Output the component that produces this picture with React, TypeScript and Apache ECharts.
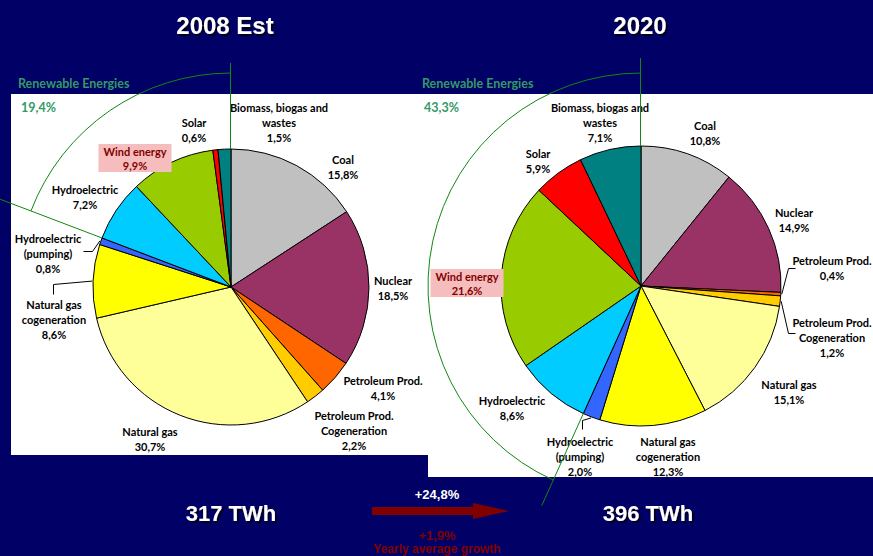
import React, { useEffect, useRef } from 'react';
import * as echarts from 'echarts';

// ---------- data ----------
const categories = [
  'Coal',
  'Nuclear',
  'Petroleum Prod.',
  'Petroleum Prod.\nCogeneration',
  'Natural gas',
  'Natural gas\ncogeneration',
  'Hydroelectric\n(pumping)',
  'Hydroelectric',
  'Wind energy',
  'Solar',
  'Biomass, biogas and\nwastes',
];
const values2008 = [15.8, 18.5, 4.1, 2.2, 30.7, 8.6, 0.8, 7.2, 9.9, 0.6, 1.5];
const values2020 = [10.8, 14.9, 0.4, 1.2, 15.1, 12.3, 2.0, 8.6, 21.6, 5.9, 7.1];
const sliceColors = ['#C0C0C0', '#993366', '#FF6600', '#FFCC00', '#FFFF99', '#FFFF00', '#3366FF', '#00CCFF', '#99CC00', '#FF0000', '#008080'];
const firstRenewableIndex = 7; // Hydroelectric onwards
const windIndex = 8;
const titles = ['2008 Est', '2020'];
const renewableLabel = 'Renewable Energies';
const renewableShares = ['19,4%', '43,3%'];
const totals = ['317 TWh', '396 TWh'];
const growthTotal = '+24,8%';
const growthYearly = '+1,9%';
const growthCaption = 'Yearly average growth';

// ---------- layout ----------
const W = 873;
const H = 556;
const pieLeft = { cx: 231, cy: 287, r: 138, arcR: 214, rayR: 262, topR: 224 };
const pieRight = { cx: 641, cy: 286, r: 140, arcR: 213, rayR: 241, topR: 228 };
const labelPos2008 = [[343, 167], [393, 288], [383, 388], [354, 430], [150, 439], [54, 319], [48, 253], [85, 197], [135, 158], [194, 130], [279, 122]];
const labelPos2020 = [[705, 133], [794, 220], [832, 268], [832, 337], [789, 392], [668, 456], [580, 456], [512, 408], [467, 283], [538, 161], [600, 122]];
// leader lines: slice index -> bend and end points (start is the slice's outer edge)
const leaderSlices2008 = [5, 6];
const leaderPts2008 = [[[53.5, 284.5], [53.5, 294.5]], [[92.5, 251.5], [83.5, 251.5]]];
const leaderSlices2020 = [2, 3, 6];
const leaderPts2020 = [[[788.5, 268.5], [795.5, 268.5]], [[788.5, 333.5], [795.5, 333.5]], [[582.5, 420.5], [582.5, 429.5]]];

const NAVY = '#000066';
const GREEN_TXT = '#339966';
const GREEN_LINE = '#118811';
const DARK_RED = '#800000';
const LABEL_FONT = 'Lato, "Open Sans", sans-serif';
const TITLE_FONT = '"Liberation Sans", Arial, sans-serif';

const fmt = (v: number) => v.toFixed(1).replace('.', ',') + '%';
const sum = (a: number[]) => a.reduce((s, v) => s + v, 0);
// screen angle (radians, clockwise from +x) at a cumulative share; pie starts at 12 o'clock, clockwise
const angleAt = (values: number[], cum: number) => (cum / sum(values)) * Math.PI * 2 - Math.PI / 2;

function makePie(values: number[], geo: typeof pieLeft, pos: number[][]) {
  return {
    type: 'pie',
    center: [geo.cx, geo.cy],
    radius: geo.r,
    startAngle: 90,
    clockwise: true,
    avoidLabelOverlap: false,
    z: 2,
    itemStyle: { borderColor: '#000', borderWidth: 1 },
    label: {
      show: true,
      position: 'outside',
      formatter: (p: any) => `${p.name}\n${fmt(p.value)}`,
      fontFamily: LABEL_FONT,
      fontWeight: 'bold',
      fontSize: 11,
      lineHeight: 15,
      color: '#000',
    },
    labelLine: { show: false },
    labelLayout: (params: any) => {
      const [x, y] = pos[params.dataIndex];
      return { x, y, align: 'center', verticalAlign: 'middle' };
    },
    data: categories.map((name, i) => ({
      name,
      value: values[i],
      itemStyle: { color: sliceColors[i] },
      label:
        i === windIndex
          ? { backgroundColor: '#F5BDBD', color: DARK_RED, padding: [0, 5], lineHeight: 14 }
          : undefined,
    })),
  };
}

function leaderMarks(values: number[], geo: typeof pieLeft, slices: number[], pts: number[][][]) {
  return slices.map((i, k) => {
    const mid = angleAt(values, sum(values.slice(0, i)) + values[i] / 2);
    const r = geo.r + 1;
    return {
      type: 'polyline',
      z: 58,
      silent: true,
      shape: { points: [[geo.cx + r * Math.cos(mid), geo.cy + r * Math.sin(mid)], ...pts[k]] },
      style: { stroke: '#000000', lineWidth: 1, fill: null },
    };
  });
}

function renewableMarks(values: number[], geo: typeof pieLeft) {
  const a = angleAt(values, sum(values.slice(0, firstRenewableIndex)));
  const top = -Math.PI / 2;
  return [
    {
      type: 'arc',
      z: 50,
      shape: { cx: geo.cx, cy: geo.cy, r: geo.arcR, startAngle: a, endAngle: top + Math.PI * 2, clockwise: true },
      style: { stroke: GREEN_LINE, fill: 'none', lineWidth: 1 },
      silent: true,
    },
    {
      type: 'line',
      z: 50,
      shape: {
        x1: geo.cx + geo.r * Math.cos(a), y1: geo.cy + geo.r * Math.sin(a),
        x2: geo.cx + geo.rayR * Math.cos(a), y2: geo.cy + geo.rayR * Math.sin(a),
      },
      style: { stroke: GREEN_LINE, lineWidth: 1 },
      silent: true,
    },
    {
      type: 'line',
      z: 50,
      shape: { x1: geo.cx - 0.5, y1: geo.cy - geo.r, x2: geo.cx - 0.5, y2: geo.cy - geo.topR },
      style: { stroke: GREEN_LINE, lineWidth: 1 },
      silent: true,
    },
  ];
}

function txt(text: string, x: number, y: number, style: any) {
  return { type: 'text', z: 60, x, y, silent: true, style: { text, ...style } };
}

export default function App() {
  const ref = useRef<HTMLDivElement>(null);
  useEffect(() => {
    if (!ref.current) return;
    const chart = echarts.init(ref.current, undefined, { renderer: 'svg', width: W, height: H });
    const titleStyle = {
      fill: '#fff', fontFamily: TITLE_FONT, fontWeight: 'bold', fontSize: 24, align: 'center', verticalAlign: 'middle',
      textShadowColor: 'rgba(0,0,0,0.7)', textShadowOffsetX: 2, textShadowOffsetY: 2, textShadowBlur: 1,
    };
    const totalStyle = { ...titleStyle, fontSize: 22 };
    const greenStyle = { fill: GREEN_TXT, fontFamily: LABEL_FONT, fontWeight: 'bold', fontSize: 12.5, align: 'left', verticalAlign: 'middle' };
    const option: any = {
      animation: false,
      backgroundColor: NAVY,
      graphic: {
        elements: [
          { type: 'rect', z: 0, silent: true, shape: { x: 11, y: 94, width: 417, height: 361 }, style: { fill: '#fff' } },
          { type: 'rect', z: 0, silent: true, shape: { x: 428, y: 94, width: 445, height: 383 }, style: { fill: '#fff' } },
          ...renewableMarks(values2008, pieLeft),
          ...renewableMarks(values2020, pieRight),
          ...leaderMarks(values2008, pieLeft, leaderSlices2008, leaderPts2008),
          ...leaderMarks(values2020, pieRight, leaderSlices2020, leaderPts2020),
          txt(titles[0], 225, 25, titleStyle),
          txt(titles[1], 640, 25, titleStyle),
          txt(renewableLabel, 18, 83, greenStyle),
          txt(renewableLabel, 422, 83, greenStyle),
          txt(renewableShares[0], 21, 107, greenStyle),
          txt(renewableShares[1], 424, 107, greenStyle),
          txt(totals[0], 231, 513, totalStyle),
          txt(totals[1], 648, 513, totalStyle),
          txt(growthTotal, 437, 494, { fill: '#fff', fontFamily: TITLE_FONT, fontWeight: 'bold', fontSize: 13, align: 'center', verticalAlign: 'middle' }),
          txt(growthYearly, 437, 535, { fill: DARK_RED, fontFamily: TITLE_FONT, fontWeight: 'bold', fontSize: 13, align: 'center', verticalAlign: 'middle' }),
          txt(growthCaption, 437, 549, { fill: DARK_RED, fontFamily: TITLE_FONT, fontWeight: 'bold', fontSize: 12, align: 'center', verticalAlign: 'middle' }),
          {
            type: 'polygon', z: 55, silent: true,
            shape: { points: [[372, 507], [473, 507], [473, 503], [509, 511], [473, 519], [473, 515], [372, 515]] },
            style: { fill: DARK_RED },
          },
        ],
      },
      series: [
        makePie(values2008, pieLeft, labelPos2008),
        makePie(values2020, pieRight, labelPos2020),
      ],
    };
    chart.setOption(option);
    return () => chart.dispose();
  }, []);
  return <div ref={ref} style={{ position: 'fixed', left: 0, top: 0, width: W, height: H }} />;
}
